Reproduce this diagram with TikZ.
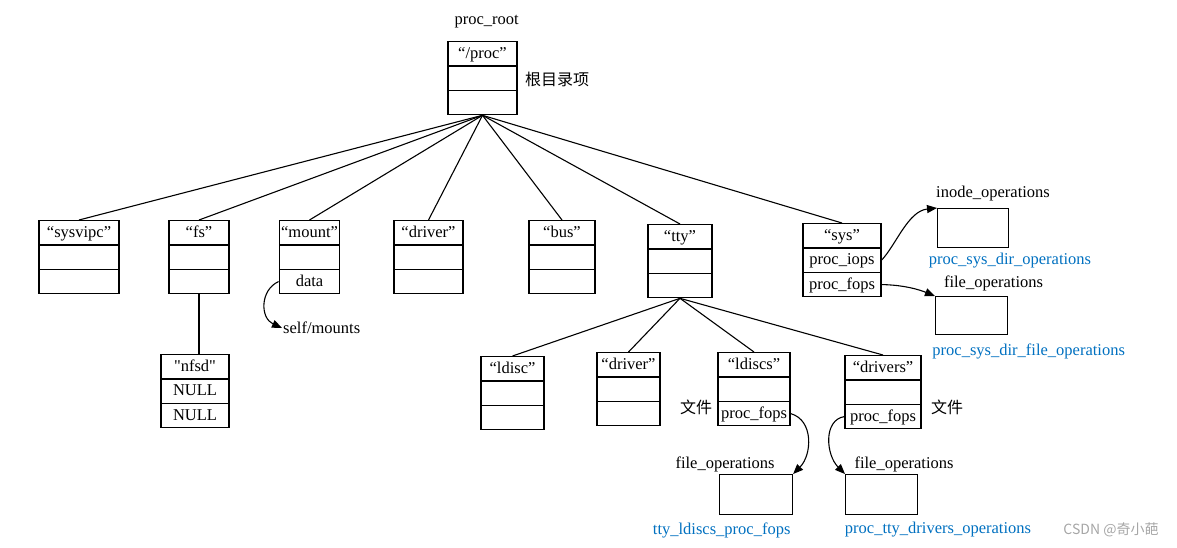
\documentclass[tikz,border=0pt]{standalone}
\usepackage{fontspec}
\setmainfont{Liberation Serif}
\newfontfamily\rawserif{Liberation Serif}
\newfontfamily\cjk{Noto Sans CJK SC}
\usetikzlibrary{arrows.meta, positioning, shapes.multipart}
\definecolor{linkblue}{RGB}{0,112,192}
% fixed-height row for the record boxes
\newcommand{\rowtxt}[1]{\rule[-7pt]{0pt}{23.3pt}#1}

\begin{document}
\begin{tikzpicture}[x=1pt, y=-1pt,
    every node/.style={font=\fontsize{16.5}{19}\selectfont},
    rec/.style={draw, line width=1.1pt, rectangle split, rectangle split parts=3, inner xsep=2pt, inner ysep=0pt, anchor=north},
    obox/.style={draw, line width=1.1pt, anchor=north west, minimum width=72pt, minimum height=39pt, inner sep=0pt},
    lbl/.style={inner sep=1pt},
    note/.style={inner sep=1pt, font=\cjk\fontsize{16}{19}\selectfont},
    sname/.style={inner sep=1pt, text=linkblue},
    edge/.style={line width=1.1pt},
    ptr/.style={line width=1.1pt, -{Triangle[length=10pt,width=8pt]}}
]
    \useasboundingbox (0,0) rectangle (1177,547);

    % Root entry
    \node[rec, minimum width=69pt] (root) at (482.5,41) {\rowtxt{“/proc”}\nodepart{two}\rowtxt{}\nodepart{three}\rowtxt{}};
    \node[lbl] (rootname) at (486.7,21.7) {proc\_root};
    \node[note, anchor=west] (rootnote) at (524,79) {根目录项};

    % First level
    \node[rec, minimum width=80pt] (sysvipc) at (79,220) {\rowtxt{“sysvipc”}\nodepart{two}\rowtxt{}\nodepart{three}\rowtxt{}};
    \node[rec, minimum width=60pt] (fs) at (199,220) {\rowtxt{“fs”}\nodepart{two}\rowtxt{}\nodepart{three}\rowtxt{}};
    \node[rec, minimum width=59pt] (mount) at (309.5,220) {\rowtxt{“mount”}\nodepart{two}\rowtxt{}\nodepart{three}\rowtxt{data}};
    \node[rec, minimum width=69pt] (driver) at (428.5,220) {\rowtxt{“driver”}\nodepart{two}\rowtxt{}\nodepart{three}\rowtxt{}};
    \node[rec, minimum width=66pt] (bus) at (562,220) {\rowtxt{“bus”}\nodepart{two}\rowtxt{}\nodepart{three}\rowtxt{}};
    \node[rec, minimum width=64pt] (tty) at (680,224) {\rowtxt{“tty”}\nodepart{two}\rowtxt{}\nodepart{three}\rowtxt{}};
    \node[rec, minimum width=78pt] (sys) at (842,223) {\rowtxt{“sys”}\nodepart{two}\rowtxt{proc\_iops}\nodepart{three}\rowtxt{proc\_fops}};

    \foreach \c in {sysvipc,fs,mount,driver,bus,tty,sys}
        \draw[edge] (root.south) -- (\c.north);

    % fs -> nfsd
    \node[rec, minimum width=68pt] (nfsd) at (195,354) {\rowtxt{\rawserif"nfsd"}\nodepart{two}\rowtxt{NULL}\nodepart{three}\rowtxt{NULL}};
    \draw[edge] (fs.south) -- (fs.south |- nfsd.north);

    % mount data
    \node[lbl, anchor=west] (selfm) at (282,328) {self/mounts};
    \draw[ptr] (mount.three west) .. controls (260,290) and (260,318) .. (selfm.west);

    % sys operations
    \node[obox, minimum width=71pt] (inode) at (937,208) {};
    \node[lbl] (inodename) at (993,194) {inode\_operations};
    \node[sname] (sysdirops) at (1010,261) {proc\_sys\_dir\_operations};
    \node[obox, minimum height=38pt] (fsys) at (935,296) {};
    \node[lbl] (fsysname) at (993.5,283) {file\_operations};
    \node[sname] (sysdirfops) at (1028.7,351) {proc\_sys\_dir\_file\_operations};
    \draw[ptr] (sys.two east) .. controls (896,245) and (908,211) .. (inode.north west);
    \draw[ptr] (sys.three east) .. controls (905,285) and (920,290) .. (fsys.north west);

    % tty children
    \node[rec, minimum width=63pt] (ldisc) at (512.5,356) {\rowtxt{“ldisc”}\nodepart{two}\rowtxt{}\nodepart{three}\rowtxt{}};
    \node[rec, minimum width=63pt] (driver2) at (628.5,352) {\rowtxt{“driver”}\nodepart{two}\rowtxt{}\nodepart{three}\rowtxt{}};
    \node[rec, minimum width=72pt] (ldiscs) at (754,352) {\rowtxt{“ldiscs”}\nodepart{two}\rowtxt{}\nodepart{three}\rowtxt{proc\_fops}};
    \node[rec, minimum width=76pt] (drivers) at (883,355) {\rowtxt{“drivers”}\nodepart{two}\rowtxt{}\nodepart{three}\rowtxt{proc\_fops}};

    \foreach \c in {ldisc,driver2,ldiscs,drivers}
        \draw[edge] (tty.south) -- (\c.north);

    \node[note] (filenote1) at (696,407) {文件};
    \node[note] (filenote2) at (947,407) {文件};

    % file operations of ldiscs and drivers
    \node[obox, minimum width=73pt, minimum height=40pt] (fo1) at (719,474) {};
    \node[lbl] (fo1name) at (725,464) {file\_operations};
    \node[sname] (fo1var) at (721.7,530) {tty\_ldiscs\_proc\_fops};
    \node[obox, minimum height=40pt] (fo2) at (845,474) {};
    \node[lbl] (fo2name) at (904,464) {file\_operations};
    \node[sname] (fo2var) at (938,530) {proc\_tty\_drivers\_operations};
    \draw[ptr] (ldiscs.three east) .. controls (814,420) and (812,455) .. (fo1.north east);
    \draw[ptr] (drivers.three west) .. controls (823,420) and (826,455) .. (fo2.north west);

    \node[text=gray!70, font=\cjk\fontsize{14}{16}\selectfont] (mark) at (1111,530) {CSDN @奇小葩};
\end{tikzpicture}
\end{document}
